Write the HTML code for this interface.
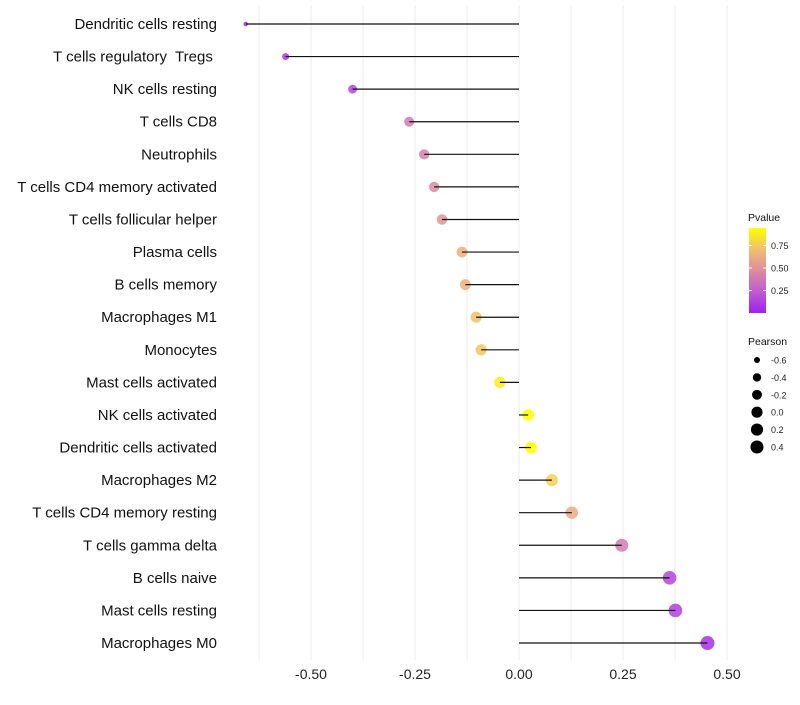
<!DOCTYPE html>
<html><head><meta charset="utf-8"><style>
body{margin:0;background:#fff;font-family:"Liberation Sans",sans-serif;}
svg text{font-family:"Liberation Sans",sans-serif;}
</style></head><body>
<svg id="chart" width="800" height="700"></svg>
<script>
const categories=["Dendritic cells resting","T cells regulatory\u00a0 Tregs\u00a0","NK cells resting","T cells CD8","Neutrophils","T cells CD4 memory activated","T cells follicular helper","Plasma cells","B cells memory","Macrophages M1","Monocytes","Mast cells activated","NK cells activated","Dendritic cells activated","Macrophages M2","T cells CD4 memory resting","T cells gamma delta","B cells naive","Mast cells resting","Macrophages M0"];
const pearson=[-0.657,-0.561,-0.400,-0.264,-0.228,-0.204,-0.185,-0.137,-0.129,-0.103,-0.091,-0.046,0.022,0.029,0.079,0.127,0.247,0.362,0.376,0.453];
const pvalue=[0.05,0.08,0.15,0.38,0.42,0.47,0.52,0.64,0.66,0.72,0.75,0.88,0.95,0.95,0.78,0.62,0.40,0.15,0.13,0.06];
const xTicks=[-0.5,-0.25,0,0.25,0.5];
const xTickLabels=["-0.50","-0.25","0.00","0.25","0.50"];
const pTicks=[0.25,0.5,0.75];
const pTickLabels=["0.25","0.50","0.75"];
const sizeTicks=[-0.6,-0.4,-0.2,0.0,0.2,0.4];
const sizeTickLabels=["-0.6","-0.4","-0.2","0.0","0.2","0.4"];

const NS="http://www.w3.org/2000/svg";
const svg=document.getElementById('chart');
function mk(tag,attrs,parent){const e=document.createElementNS(NS,tag);for(const k in attrs)e.setAttribute(k,attrs[k]);(parent||svg).appendChild(e);return e;}
const x=v=>519+v*416;
const y=i=>24+i*32.58;
const rad=v=>2+5*Math.sqrt(Math.max(0,(v+0.66)/1.11));
const cstops=[[0,[160,32,240]],[0.25,[192,90,210]],[0.5,[222,140,160]],[0.75,[240,190,110]],[1,[255,255,0]]];
function col(p){const t=Math.max(0,Math.min(1,p/0.95));
 for(let k=1;k<cstops.length;k++){if(t<=cstops[k][0]){const a=cstops[k-1],b=cstops[k];const s=(t-a[0])/(b[0]-a[0]);
  const c=a[1].map((v,j)=>Math.round(v+(b[1][j]-v)*s));return `rgb(${c[0]},${c[1]},${c[2]})`;}}
 return 'rgb(255,255,0)';}
for(let g=-0.625;g<=0.5001;g+=0.125){const l=mk('line',{x1:x(g),x2:x(g),y1:5,y2:660,stroke:'#ebebeb','stroke-width':1});
}
xTicks.forEach((t,i)=>{const tx=mk('text',{x:x(t),y:679,'text-anchor':'middle','font-size':14,fill:'#222'});tx.textContent=xTickLabels[i];
});
categories.forEach((c,i)=>{
 const t=mk('text',{x:217,y:y(i)+5,'text-anchor':'end','font-size':15,fill:'#111'});t.textContent=c;
 
 const d=mk('circle',{cx:x(pearson[i]),cy:y(i),r:rad(pearson[i]),fill:col(pvalue[i]),'fill-opacity':0.85});
 
 const ln=mk('line',{x1:x(0),x2:x(pearson[i]),y1:y(i),y2:y(i),stroke:'#111','stroke-width':1.2});
 
});
const lt=mk('text',{x:748,y:221,'font-size':10.5,fill:'#111'});lt.textContent='Pvalue';

const defs=mk('defs',{});const grad=mk('linearGradient',{id:'pg',x1:0,y1:1,x2:0,y2:0},defs);
[0,0.25,0.5,0.75,1].forEach(s=>mk('stop',{offset:s,'stop-color':col(s*0.95)},grad));
const cb=mk('rect',{x:749,y:228,width:17,height:85,fill:'url(#pg)'});

const py=p=>313-p*90;
pTicks.forEach((p,i)=>{mk('line',{x1:749,x2:752,y1:py(p),y2:py(p),stroke:'#fff'});mk('line',{x1:763,x2:766,y1:py(p),y2:py(p),stroke:'#fff'});
 const t=mk('text',{x:771,y:py(p)+3.5,'font-size':9,fill:'#222'});t.textContent=pTickLabels[i];
 });
const st=mk('text',{x:748,y:345,'font-size':10.5,fill:'#111'});st.textContent='Pearson';

sizeTicks.forEach((s,i)=>{const cy=360+i*17.4;
 const c=mk('circle',{cx:757,cy:cy,r:rad(s)*0.95,fill:'#000'});
 
 const t=mk('text',{x:771,y:cy+3.5,'font-size':9,fill:'#222'});t.textContent=sizeTickLabels[i];
 });
</script>
</body></html>
